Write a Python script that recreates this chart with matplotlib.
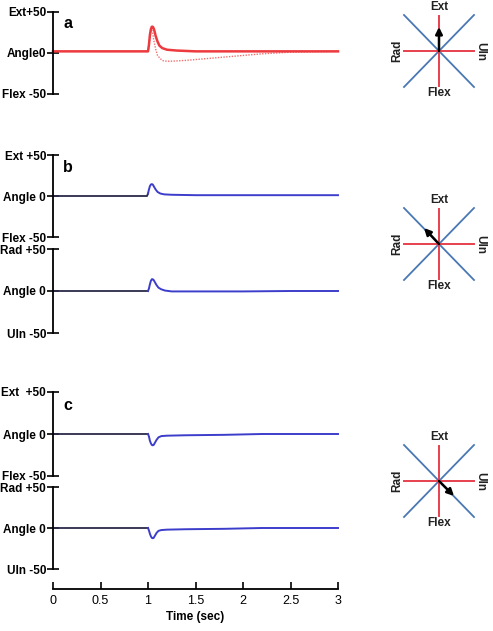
import matplotlib
matplotlib.use("Agg")
import matplotlib.pyplot as plt

plt.rcParams["font.family"] = ["Liberation Sans", "DejaVu Sans"]

W, H = 493, 631

# --- traces (time in s, angle in deg) ---
t_a = [0, 1.00, 1.01, 1.02, 1.03, 1.04, 1.05, 1.06, 1.07, 1.08, 1.10, 1.12,
       1.15, 1.20, 1.30, 1.50, 2.0, 3.0]
a_solid = [2, 2, 10, 22, 29, 32, 32, 30, 26, 21, 14, 9, 6, 4, 3, 2, 2, 2]

t_a_dot = [0, 1.00, 1.01, 1.02, 1.03, 1.04, 1.05, 1.06, 1.08, 1.10, 1.13,
           1.16, 1.20, 1.25, 1.40, 1.60, 1.80, 2.0, 2.2, 2.5, 3.0]
a_dotted = [2, 2, 8, 18, 26, 28, 24, 16, 5, -3, -7, -9.5, -10, -10, -9, -7,
            -5, -3, -1, 1, 2]

t_b1 = [0, 0.99, 1.00, 1.01, 1.02, 1.03, 1.04, 1.05, 1.06, 1.08, 1.10, 1.13,
        1.17, 1.25, 1.50, 3.0]
b1 = [0, 0, 3, 8, 12, 14, 14.5, 14, 12, 8, 5, 3, 2, 1.5, 1, 1]

t_b2 = [0, 1.00, 1.01, 1.02, 1.03, 1.04, 1.05, 1.06, 1.07, 1.09, 1.11, 1.14,
        1.18, 1.25, 2.0, 2.5, 3.0]
b2 = [0, 0, 3, 8, 12, 14, 14, 13, 11, 7, 4, 2, 0.5, -0.5, -0.5, 0, 0]

t_c1 = [0, 1.00, 1.01, 1.02, 1.03, 1.04, 1.05, 1.06, 1.07, 1.09, 1.11, 1.14,
        1.20, 1.40, 1.80, 2.2, 3.0]
c1 = [0, 0, -3, -8, -11, -13, -13.5, -13, -11, -7, -4, -2.5, -2, -1.5, -1, 0, 0]

t_c2 = [0, 1.00, 1.01, 1.02, 1.03, 1.04, 1.05, 1.06, 1.07, 1.09, 1.11, 1.14,
        1.20, 1.40, 1.80, 2.2, 3.0]
c2 = [0, 0, -3, -7, -10, -12, -12.5, -12, -10, -6, -3.5, -2.5, -2, -1.5, -1, 0, 0]

ONSET = 1.0

labels_a = ["Flex -50", "Angle0", "Ext+50"]
labels_b1 = ["Flex -50", "Angle 0", "Ext +50"]
labels_b2 = ["Uln -50", "Angle 0", "Rad +50"]
labels_c1 = ["Flex -50", "Angle 0", "Ext  +50"]
labels_c2 = ["Uln -50", "Angle 0", "Rad +50"]

time_ticks = [0, 0.5, 1, 1.5, 2, 2.5, 3]
time_ticklabels = ["0", "0.5", "1", "1.5", "2", "2.5", "3"]

# arrow direction of movement in each dial (x = Uln, y = Ext)
arrows = [(0, 24), (-15, 16), (15, -15)]

RED = "#ec3a3f"
RED_DOT = "#f07070"
BLUE = "#3d3dcc"
DARK = "#2a2a4a"


def px_axes(fig, left, top, right, bottom):
    return fig.add_axes([left / W, 1 - bottom / H, (right - left) / W,
                         (bottom - top) / H])


def trace_axes(fig, top, bottom, labels):
    ax = px_axes(fig, 53, top, 338, bottom)
    ax.set_xlim(0, 3)
    ax.set_ylim(-50, 50)
    for s in ("top", "right", "bottom"):
        ax.spines[s].set_visible(False)
    ax.spines["left"].set_linewidth(1.3)
    ax.set_xticks([])
    ax.set_yticks([-50, 0, 50])
    ax.set_yticklabels(labels, fontsize=8.5, fontweight="bold")
    ax.tick_params(axis="y", direction="inout", length=8, width=1.2, pad=1)
    ax.patch.set_alpha(0)
    return ax


def split_plot(ax, t, v):
    pre_t = [x for x in t if x <= ONSET]
    pre_v = v[:len(pre_t)]
    post_t = t[len(pre_t) - 1:]
    post_v = v[len(pre_t) - 1:]
    ax.plot(pre_t, pre_v, color=DARK, lw=1.3, clip_on=False)
    ax.plot(post_t, post_v, color=BLUE, lw=1.4, clip_on=False)


def draw_dial(fig, cx, cy, arrow):
    ax = px_axes(fig, cx - 50, cy - 50, cx + 50, cy + 50)
    ax.set_xlim(-50, 50)
    ax.set_ylim(-50, 50)
    ax.axis("off")
    ax.plot([-35, 35], [36, -36], color="#4a78b4", lw=1.3)
    ax.plot([-35, 35], [-36, 36], color="#4a78b4", lw=1.3)
    ax.plot([0, 0], [-35, 35], color="#e8404e", lw=1.4)
    ax.plot([-35, 35], [0, 0], color="#e8404e", lw=1.4)
    ax.annotate("", xy=arrow, xytext=(0, 0),
                arrowprops=dict(arrowstyle="-|>", color="black", lw=1.8,
                                mutation_scale=10, shrinkA=0, shrinkB=0))
    kw = dict(fontsize=8.5, fontweight="bold", color="#222222",
              ha="center", va="center")
    ax.text(0, 44, "Ext", **kw)
    ax.text(0, -42, "Flex", **kw)
    ax.text(-42, 0, "Rad", rotation=90, **kw)
    ax.text(41, 0, "Uln", rotation=-90, **kw)


fig = plt.figure(figsize=(W / 100, H / 100), dpi=100)

ax_a = trace_axes(fig, 12, 94, labels_a)
ax_a.plot(t_a_dot, a_dotted, color=RED_DOT, lw=1.0, ls=(0, (1, 1)), clip_on=False)
ax_a.plot(t_a, a_solid, color=RED, lw=1.8, clip_on=False)

ax_b1 = trace_axes(fig, 155, 237, labels_b1)
split_plot(ax_b1, t_b1, b1)
ax_b2 = trace_axes(fig, 249, 333, labels_b2)
split_plot(ax_b2, t_b2, b2)

ax_c1 = trace_axes(fig, 392, 476, labels_c1)
split_plot(ax_c1, t_c1, c1)
ax_c2 = trace_axes(fig, 487, 569, labels_c2)
split_plot(ax_c2, t_c2, c2)

# time axis
ax_t = px_axes(fig, 53, 579, 338, 589)
ax_t.set_xlim(0, 3)
ax_t.set_ylim(0, 1)
for s in ("top", "right", "left"):
    ax_t.spines[s].set_visible(False)
ax_t.spines["bottom"].set_linewidth(1.3)
ax_t.set_yticks([])
ax_t.set_xticks(time_ticks)
ax_t.set_xticklabels(time_ticklabels, fontsize=9)
ax_t.tick_params(axis="x", direction="in", length=5, width=1.2, pad=4)
ax_t.set_xlabel("Time (sec)", fontsize=8.5, fontweight="bold", labelpad=3)
ax_t.patch.set_alpha(0)

for y, letter in [(23, "a"), (168, "b"), (405, "c")]:
    fig.text(63 / W, 1 - y / H, letter, fontsize=11.5, fontweight="bold",
             va="center")

draw_dial(fig, 439, 51, arrows[0])
draw_dial(fig, 439, 244, arrows[1])
draw_dial(fig, 439, 481, arrows[2])

fig.savefig("out.png", dpi=100)
